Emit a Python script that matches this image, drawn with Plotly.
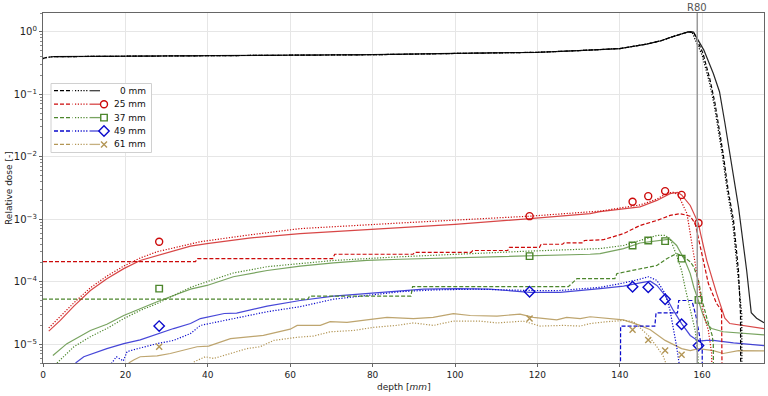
import math
import plotly.graph_objects as go

# ---------------- data ----------------
# 0 mm (black)
k_dash_x = [0, 1, 2.5, 20, 40, 60, 80, 100, 120, 130, 140, 146.5, 150, 152.2, 155, 156.6, 157.9,
            160.2, 161.9, 163.1, 165.1, 166.3, 167.6, 168.8, 169.3, 169.4]
k_dash_y = [0.375, 0.39, 0.40, 0.405, 0.41, 0.42, 0.43, 0.45, 0.47, 0.50, 0.54, 0.635, 0.72, 0.81,
            0.93, 1.0, 0.99, 0.45, 0.17, 0.072, 0.011, 2.9e-3, 9.6e-4, 1.5e-4, 3e-5, 1e-7]
k_dot_x = [0, 1, 2.5, 20, 40, 60, 80, 100, 120, 130, 140, 146.5, 150, 152.2, 155, 156.6, 157.5,
           160.0, 161.7, 162.9, 164.9, 166.1, 167.4, 168.6, 169.6, 169.7]
k_dot_y = [0.37, 0.39, 0.40, 0.405, 0.41, 0.42, 0.43, 0.45, 0.47, 0.50, 0.54, 0.635, 0.72, 0.81,
           0.93, 1.0, 0.99, 0.42, 0.16, 0.068, 0.0105, 2.8e-3, 9e-4, 1.4e-4, 3e-5, 1e-7]
k_sol_x = [2.3, 20, 40, 60, 80, 100, 120, 130, 140, 146.5, 150, 152.2, 155, 156.6, 157.9, 160.4,
           162.7, 164.2, 165.5, 166.7, 168.8, 170.8, 171.9, 173.2, 175]
k_sol_y = [0.40, 0.405, 0.41, 0.42, 0.43, 0.45, 0.47, 0.50, 0.54, 0.635, 0.72, 0.81, 0.93, 1.0,
           0.99, 0.51, 0.215, 0.11, 0.035, 0.0112, 1.58e-3, 1.5e-4, 3.2e-5, 2.6e-5, 2.2e-5]

# 25 mm (red)
r_dash_x = [0, 37.0, 37.5, 70.3, 70.8, 89.8, 90.2, 103.9, 104.3, 112.8, 113.2, 120.5, 120.9, 126.1,
            126.5, 131.0, 131.4, 136, 140.9, 144.9, 149, 152.2, 154.6, 157.1, 158.3, 159.9, 161.5,
            163.5, 164.7, 165.0]
r_dash_y = [2.09e-4, 2.09e-4, 2.34e-4, 2.34e-4, 2.75e-4, 2.75e-4, 2.95e-4, 2.95e-4, 3.16e-4,
            3.16e-4, 3.55e-4, 3.55e-4, 3.98e-4, 3.98e-4, 4.2e-4, 4.2e-4, 4.57e-4, 4.7e-4, 5.89e-4,
            7.94e-4, 9.55e-4, 1.15e-3, 1.23e-3, 1.12e-3, 8.51e-4, 2.82e-4, 9.33e-5, 4.47e-5,
            3.47e-5, 1e-7]
r_dot_x = [1.4, 4.2, 7.5, 11.5, 15.5, 19.6, 23.6, 27.7, 31.7, 38.2, 50, 62.4, 86.7, 100, 118.2,
           135.2, 145, 149, 151.5, 153, 154.2, 156.3, 157.1, 158.7, 160.3, 161.5, 162.3, 162.6]
r_dot_y = [1.82e-5, 2.8e-5, 4.6e-5, 8.0e-5, 1.23e-4, 1.78e-4, 2.4e-4, 3.02e-4, 3.5e-4, 4.37e-4,
           5.6e-4, 7.08e-4, 8.71e-4, 9.6e-4, 1.12e-3, 1.35e-3, 1.7e-3, 2.1e-3, 2.63e-3, 2.7e-3,
           2.45e-3, 1.23e-3, 5.89e-4, 1.35e-4, 3.09e-5, 1.66e-5, 7e-6, 1e-7]
r_sol_x = [1.4, 4.2, 7.5, 11.5, 15.5, 19.6, 23.6, 27.7, 31.7, 35.8, 39.8, 50, 62.4, 86.7, 100,
           118.2, 132.8, 135.2, 144.9, 149, 152.2, 154, 155, 157.1, 159.1, 159.6, 161.1, 163.5,
           165.5, 166.7, 170.8, 175]
r_sol_y = [1.62e-5, 2.4e-5, 4.07e-5, 7.24e-5, 1.12e-4, 1.62e-4, 2.19e-4, 2.63e-4, 3.16e-4,
           3.72e-4, 4.07e-4, 5.0e-4, 5.89e-4, 7.24e-4, 8.3e-4, 1.02e-3, 1.23e-3, 1.32e-3, 1.58e-3,
           2.0e-3, 2.57e-3, 2.7e-3, 2.45e-3, 1.66e-3, 8.51e-4, 5.9e-4, 2.2e-4, 6.5e-5, 2.6e-5,
           2.14e-5, 1.95e-5, 1.78e-5]
r_mark_x = [28.2, 118.1, 143.1, 146.9, 151.0, 155.0, 159.1]
r_mark_y = [4.37e-4, 1.12e-3, 1.91e-3, 2.34e-3, 2.82e-3, 2.45e-3, 8.71e-4]

# 37 mm (green)
g_dash_x = [0, 64.3, 64.7, 89.3, 89.7, 127.5, 129.6, 138.8, 139.3, 143.3, 144.9, 147.4, 149, 151.4,
            153.8, 155, 157.1, 158, 159.1, 160, 161.2, 162.4, 162.7, 162.8]
g_dash_y = [5.25e-5, 5.25e-5, 5.89e-5, 5.89e-5, 8.32e-5, 8.32e-5, 1.12e-4, 1.12e-4, 1.35e-4,
            1.51e-4, 1.62e-4, 1.74e-4, 1.82e-4, 2.34e-4, 2.82e-4, 2.63e-4, 2.09e-4, 1.7e-4,
            1.05e-4, 5e-5, 2.5e-5, 1.4e-5, 1e-5, 1e-7]
g_dot_x = [3.4, 7.5, 11.5, 15.5, 19.6, 23.6, 27.7, 31.7, 35.8, 39.8, 46.2, 54.4, 62.4, 70.5, 86.7,
           100, 118, 135.2, 140.9, 144.9, 149, 151, 152.2, 153.8, 155, 155.8, 157.1, 158.3, 159.0,
           159.2]
g_dot_y = [5.0e-6, 9.1e-6, 1.32e-5, 1.78e-5, 2.57e-5, 3.47e-5, 4.47e-5, 6.03e-5, 8.13e-5, 1.0e-4,
           1.38e-4, 1.74e-4, 1.95e-4, 2.19e-4, 2.51e-4, 2.75e-4, 3.09e-4, 3.39e-4, 3.80e-4,
           4.57e-4, 5.50e-4, 5.5e-4, 4.90e-4, 2.63e-4, 1.51e-4, 8.32e-5, 3.47e-5, 1.66e-5, 6e-6,
           1e-7]
g_sol_x = [2.4, 5.8, 11.5, 15.5, 19.6, 23.6, 27.7, 31.7, 35.8, 39.8, 46.2, 54.4, 62.4, 70.5, 78.6,
           86.7, 100, 118, 132.8, 135.2, 140.9, 144.9, 149, 152.2, 153.8, 155.8, 157.1, 158, 159,
           160, 161.1, 162.3, 165.1, 175]
g_sol_y = [6.6e-6, 1.02e-5, 1.66e-5, 2.09e-5, 2.88e-5, 3.72e-5, 4.79e-5, 6.03e-5, 7.59e-5,
           8.71e-5, 1.20e-4, 1.51e-4, 1.78e-4, 2.0e-4, 2.19e-4, 2.29e-4, 2.4e-4, 2.57e-4, 2.75e-4,
           2.82e-4, 3.39e-4, 4.17e-4, 4.57e-4, 4.79e-4, 3.80e-4, 2.19e-4, 1.35e-4, 8e-5, 5.2e-5,
           3.2e-5, 2.14e-5, 1.78e-5, 1.58e-5, 1.41e-5]
g_mark_x = [28.2, 118.1, 143.1, 146.9, 151.0, 155.0, 159.1]
g_mark_y = [7.76e-5, 2.57e-4, 3.80e-4, 4.57e-4, 4.47e-4, 2.34e-4, 5.13e-5]

# 49 mm (blue)
b_dash_x = [140.1, 140.2, 148.5, 148.8, 154.0, 154.3, 157.5, 158.5, 159.6, 160.0, 160.05]
b_dash_y = [1e-7, 1.95e-5, 1.95e-5, 3.16e-5, 3.16e-5, 5.0e-5, 5.0e-5, 2.8e-5, 1.1e-5, 8.9e-6, 1e-7]
b_dot_x = [16.6, 17.8, 19.5, 20.4, 23.6, 27.7, 31.7, 35.8, 38.2, 46.3, 54.4, 62.4, 70.5, 78.6, 86.7,
           95, 105, 118.2, 125, 135.2, 140.9, 144.9, 147, 149, 151, 152.2, 153, 153.8, 154.6]
b_dot_y = [4.9e-6, 6.3e-6, 5.4e-6, 7.6e-6, 8.7e-6, 1.02e-5, 1.15e-5, 1.48e-5, 2.0e-5, 2.57e-5,
           3.31e-5, 3.98e-5, 5.25e-5, 6.03e-5, 6.92e-5, 7.4e-5, 7.6e-5, 7.24e-5, 7.2e-5, 8.13e-5,
           9.55e-5, 1.10e-4, 1.20e-4, 1.05e-4, 6.46e-5, 3.47e-5, 1.86e-5, 9.1e-6, 4e-6]
b_sol_x = [7.9, 9.9, 15.5, 19.6, 23.6, 27.7, 31.7, 35.8, 38.2, 44, 47, 54.4, 62.4, 70.5, 78.6, 86.7,
           92.4, 100.5, 108.5, 118.2, 125.5, 135.2, 140.9, 144.9, 147.4, 149, 151, 153, 155, 157.1,
           159.1, 161.1, 162.7, 165.1, 167.6, 175]
b_sol_y = [5.0e-6, 6.3e-6, 8.5e-6, 1.02e-5, 1.17e-5, 1.45e-5, 1.78e-5, 2.14e-5, 2.57e-5, 3.1e-5,
           3.15e-5, 4.07e-5, 5.0e-5, 5.89e-5, 6.46e-5, 7.24e-5, 7.59e-5, 7.76e-5, 7.59e-5, 6.76e-5,
           6.76e-5, 7.76e-5, 8.51e-5, 9.55e-5, 1.02e-4, 8.71e-5, 6.03e-5, 3.47e-5, 2.14e-5,
           1.38e-5, 1.12e-5, 1.15e-5, 1.15e-5, 1.1e-5, 1.05e-5, 9.5e-6]
b_mark_x = [28.2, 118.1, 143.1, 146.9, 151.0, 155.0, 159.1]
b_mark_y = [1.95e-5, 6.92e-5, 8.32e-5, 8.13e-5, 5.25e-5, 2.09e-5, 9.5e-6]

# 61 mm (tan)
t_dot_x = [36.6, 39.4, 41.4, 45.5, 49.5, 52.7, 56, 61.7, 65.7, 69.7, 75.4, 80.2, 85.9, 89.9, 94.8,
           99.6, 106.1, 110.2, 116.6, 120.7, 126.3, 130.4, 132.8, 136.9, 140.9, 143.3, 144.9, 146.9,
           149, 150.6, 151.7, 152]
t_dot_y = [5.2e-6, 6.3e-6, 5.9e-6, 7.1e-6, 8.5e-6, 9.1e-6, 1.15e-5, 1.29e-5, 1.35e-5, 1.58e-5,
           1.66e-5, 1.86e-5, 2.0e-5, 2.19e-5, 2.0e-5, 2.34e-5, 2.34e-5, 2.19e-5, 2.34e-5, 1.95e-5,
           2.0e-5, 1.95e-5, 2.14e-5, 2.29e-5, 2.40e-5, 2.3e-5, 1.86e-5, 1.38e-5, 9.1e-6, 6.3e-6,
           4e-6, 1e-7]
t_sol_x = [20.8, 22, 23.6, 27.7, 30.9, 35, 37.4, 40.2, 45.5, 53.5, 60, 61.7, 67.3, 69.7, 73.8, 78.6,
           83.5, 89.9, 94.7, 99.6, 103.7, 110.2, 115.8, 119, 124.7, 127.1, 130.4, 132.8, 136.9,
           140.9, 144.9, 147.4, 151, 155, 157.1, 159.1, 162.7, 165.1, 168.8, 175]
t_sol_y = [5e-6, 5.6e-6, 6.3e-6, 6.5e-6, 7.1e-6, 8.3e-6, 9.1e-6, 9.3e-6, 1.23e-5, 1.38e-5, 1.74e-5,
           2.0e-5, 2.0e-5, 2.29e-5, 2.24e-5, 2.45e-5, 2.69e-5, 2.57e-5, 2.69e-5, 3.09e-5, 2.88e-5,
           2.82e-5, 3.02e-5, 2.69e-5, 2.45e-5, 2.69e-5, 2.57e-5, 2.75e-5, 2.57e-5, 2.45e-5, 2.0e-5,
           1.70e-5, 1.15e-5, 8.5e-6, 7.9e-6, 8.5e-6, 7.9e-6, 7.1e-6, 7.9e-6, 7.8e-6]
t_mark_x = [28.2, 118.1, 143.1, 146.9, 151.0, 155.0]
t_mark_y = [9.1e-6, 2.57e-5, 1.70e-5, 1.17e-5, 7.9e-6, 6.8e-6]

r80_depth = 158.8

x_ticks = [0, 20, 40, 60, 80, 100, 120, 140, 160]
y_tick_vals = [1e-5, 1e-4, 1e-3, 1e-2, 1e-1, 1]
y_tick_text = ['10<sup>−5</sup>', '10<sup>−4</sup>', '10<sup>−3</sup>', '10<sup>−2</sup>',
               '10<sup>−1</sup>', '10<sup>0</sup>']
y_min, y_max = 5e-6, 2.0
x_min, x_max = 0, 175

legend_labels = ['0 mm', '25 mm', '37 mm', '49 mm', '61 mm']

# ---------------- styling ----------------
BLACK = '#000000'
RED = '#cc0a0a'
GREEN = '#4c862c'
BLUE = '#0a0acc'
TAN = '#b39656'
DASH = '4px,2px'
DOT = '1.2px,1.6px'
FS = 9

W, H = 768, 396
PL, PR, PT, PB = 43, 764, 13, 363   # plot-area pixel box

fig = go.Figure()


def add_line(x, y, color, dash, opacity=1.0, width=1.2):
    fig.add_trace(go.Scatter(x=x, y=y, mode='lines', opacity=opacity,
                             line=dict(color=color, width=width, dash=dash),
                             showlegend=False, hoverinfo='skip'))


def add_marks(x, y, color, symbol, size=7):
    fig.add_trace(go.Scatter(x=x, y=y, mode='markers',
                             marker=dict(symbol=symbol, size=size, color=color,
                                         line=dict(color=color, width=1.4)),
                             showlegend=False, hoverinfo='skip'))


series = [
    (t_dot_x, t_dot_y, TAN, DOT, 1.0), (t_sol_x, t_sol_y, TAN, 'solid', 0.85),
    (b_dash_x, b_dash_y, BLUE, DASH, 1.0), (b_dot_x, b_dot_y, BLUE, DOT, 1.0),
    (b_sol_x, b_sol_y, BLUE, 'solid', 0.75),
    (g_dash_x, g_dash_y, GREEN, DASH, 1.0), (g_dot_x, g_dot_y, GREEN, DOT, 1.0),
    (g_sol_x, g_sol_y, GREEN, 'solid', 0.75),
    (r_dash_x, r_dash_y, RED, DASH, 1.0), (r_dot_x, r_dot_y, RED, DOT, 1.0),
    (r_sol_x, r_sol_y, RED, 'solid', 0.75),
    (k_dash_x, k_dash_y, BLACK, DASH, 1.0), (k_dot_x, k_dot_y, BLACK, DOT, 1.0),
    (k_sol_x, k_sol_y, BLACK, 'solid', 0.85),
]
for sx, sy, c, d, op in series:
    add_line(sx, sy, c, d, op)

add_marks(r_mark_x, r_mark_y, RED, 'circle-open')
add_marks(g_mark_x, g_mark_y, GREEN, 'square-open', 6.5)
add_marks(b_mark_x, b_mark_y, BLUE, 'diamond-open', 8)
add_marks(t_mark_x, t_mark_y, TAN, 'x-thin-open', 6)

# R80 line + label
fig.add_shape(type='line', x0=r80_depth, x1=r80_depth, y0=0, y1=1, xref='x', yref='paper',
              line=dict(color='#9a9a9a', width=1.5), layer='above')
fig.add_annotation(x=r80_depth, y=1, xref='x', yref='paper', text='R80', showarrow=False,
                   yanchor='bottom', yshift=-2, font=dict(size=10, color='#555555'))

# axis titles
fig.add_annotation(x=0.5, y=-(387 - PB) / (PB - PT), xref='paper', yref='paper',
                   text='depth [<i>mm</i>]', showarrow=False, yanchor='middle',
                   font=dict(size=FS, color='#222222'))
fig.add_annotation(x=-(PL - 9) / (PR - PL), y=0.5, xref='paper', yref='paper',
                   text='Relative dose [-]', showarrow=False, textangle=-90,
                   xanchor='center', yanchor='middle', font=dict(size=FS, color='#222222'))

# ---------------- custom legend (overlay axes in pixel units) ----------------
box_x = [51, 151.5, 151.5, 51, 51]
box_y = [83.5, 83.5, 152.5, 152.5, 83.5]
fig.add_trace(go.Scatter(x=box_x, y=box_y, xaxis='x2', yaxis='y2', mode='lines', fill='toself',
                         fillcolor='white', line=dict(color='#d0d0d0', width=1),
                         showlegend=False, hoverinfo='skip'))
row_y = [90.7, 104.2, 117.6, 131.0, 144.4]
row_col = [BLACK, RED, GREEN, BLUE, TAN]
row_sym = [None, 'circle-open', 'square-open', 'diamond-open', 'x-thin-open']
row_size = [0, 7, 6.5, 8, 6]
for i, lab in enumerate(legend_labels):
    yy = row_y[i]
    c = row_col[i]
    for (xa, xb, d, op) in [(54, 72.5, DASH, 1.0), (75, 87.5, DOT, 1.0), (89.5, 100, 'solid', 0.75)]:
        fig.add_trace(go.Scatter(x=[xa, xb], y=[yy, yy], xaxis='x2', yaxis='y2', mode='lines',
                                 opacity=op, line=dict(color=c, width=1.3, dash=d),
                                 showlegend=False, hoverinfo='skip'))
    if row_sym[i]:
        fig.add_trace(go.Scatter(x=[104], y=[yy], xaxis='x2', yaxis='y2', mode='markers',
                                 marker=dict(symbol=row_sym[i], size=row_size[i], color=c,
                                             line=dict(color=c, width=1.4)),
                                 showlegend=False, hoverinfo='skip'))
    fig.add_annotation(x=148, y=yy, xref='x2', yref='y2', text=lab, showarrow=False,
                       xanchor='right', yanchor='middle', font=dict(size=FS, color='#111111'))

fig.update_layout(
    width=W, height=H,
    margin=dict(l=PL, r=W - PR, t=PT, b=H - PB, autoexpand=False),
    plot_bgcolor='white', paper_bgcolor='white',
    font=dict(family='DejaVu Sans', size=FS, color='#222222'),
    showlegend=False,
    xaxis=dict(range=[x_min, x_max], tickmode='array', tickvals=x_ticks, ticks='outside',
               ticklen=3, tickcolor='#666666', showgrid=True, gridcolor='#e6e6e6', gridwidth=1,
               showline=True, linecolor='#666666', linewidth=1.2, mirror=True, zeroline=False,
               automargin=False, tickfont=dict(size=FS, color='#222222')),
    yaxis=dict(type='log', range=[math.log10(y_min), math.log10(y_max)], tickmode='array',
               tickvals=y_tick_vals, ticktext=y_tick_text, ticks='outside', ticklen=3,
               tickcolor='#666666', showgrid=True, gridcolor='#e6e6e6', gridwidth=1,
               showline=True, linecolor='#666666', linewidth=1.2, mirror=True, zeroline=False,
               automargin=False, tickfont=dict(size=FS + 1, color='#222222'),
               minor=dict(ticks='outside', ticklen=2, tickcolor='#888888', showgrid=False,
                          tickvals=[m * 10.0 ** e for e in range(-6, 1) for m in range(2, 10)])),
    xaxis2=dict(overlaying='x', range=[PL, PR], visible=False, fixedrange=True, automargin=False),
    yaxis2=dict(overlaying='y', range=[PB, PT], visible=False, fixedrange=True, automargin=False),
)

fig.write_html('out.html', config={'displayModeBar': False},
               post_script="document.body.style.margin='0';document.body.style.padding='0';")
